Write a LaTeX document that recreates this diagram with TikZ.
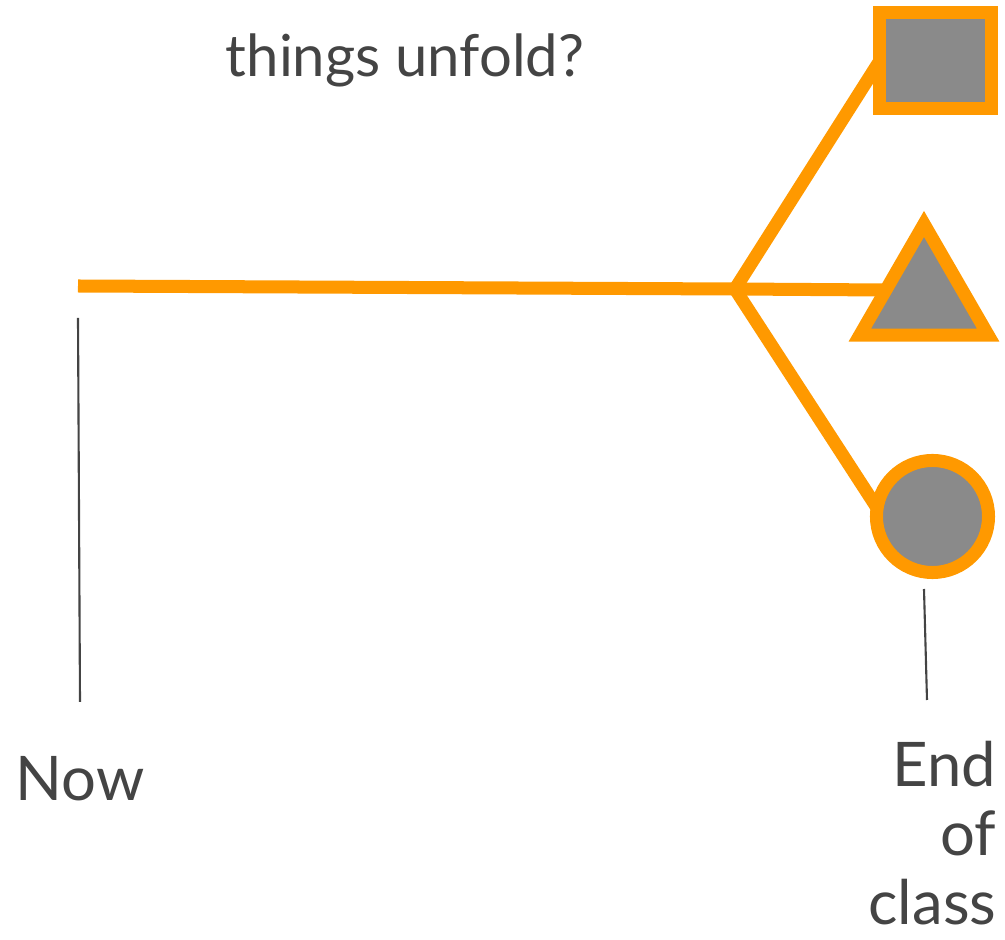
\documentclass[tikz,border=0pt]{standalone}
\usepackage{fontspec}
\setmainfont{Lato}
\usetikzlibrary{shapes.geometric,backgrounds}

\definecolor{branchorange}{HTML}{FF9900}
\definecolor{shapegray}{HTML}{8A8A8A}
\definecolor{inkgray}{HTML}{444444}

\begin{document}
\begin{tikzpicture}[x=0.01cm,y=-0.01cm,
    branch/.style={draw=branchorange,line width=0.13cm,line join=miter},
    outcome/.style={draw=branchorange,fill=shapegray,line width=0.13cm,inner sep=0pt},
    tick/.style={draw=inkgray,line width=0.6pt},
    lbl/.style={text=inkgray,font=\fontsize{17.5}{19.7}\selectfont,inner sep=0pt}]
    \path[use as bounding box] (0,0) rectangle (1005,940);

    \node[lbl,anchor=base,font=\fontsize{16.5}{19.7}\selectfont] (question) at (405,77) {things unfold?};

    % the three outcomes
    \node[outcome,minimum width=1.12cm,minimum height=0.96cm] (square) at (935.5,60.5) {};
    \node[outcome,regular polygon,regular polygon sides=3,minimum size=1.48cm] (triangle) at (924,298) {};
    \node[outcome,circle,minimum size=1.12cm] (circ) at (932.5,516.5) {};

    \coordinate (now) at (78,286);
    \coordinate (fork) at (735,289);

    \begin{scope}[on background layer]
        \draw[branch,shorten >=-0.1cm] (now) -- (fork) -- (triangle.170);
        \draw[branch,shorten <=-0.1cm,shorten >=-0.1cm] (square.190) -- (fork) -- (circ.165);
    \end{scope}

    % time marks
    \coordinate (nowtop) at (78,318);
    \coordinate (nowfoot) at (80,702);
    \coordinate (endtop) at (924,589);
    \coordinate (endfoot) at (927,700);
    \draw[tick] (nowtop) -- (nowfoot);
    \draw[tick] (endtop) -- (endfoot);

    \node[lbl,anchor=base] (nowlbl) at (80,801) {Now};
    \node[lbl,align=right,anchor=base east] (endlbl) at (997,925) {End\\of\\class};
\end{tikzpicture}
\end{document}
